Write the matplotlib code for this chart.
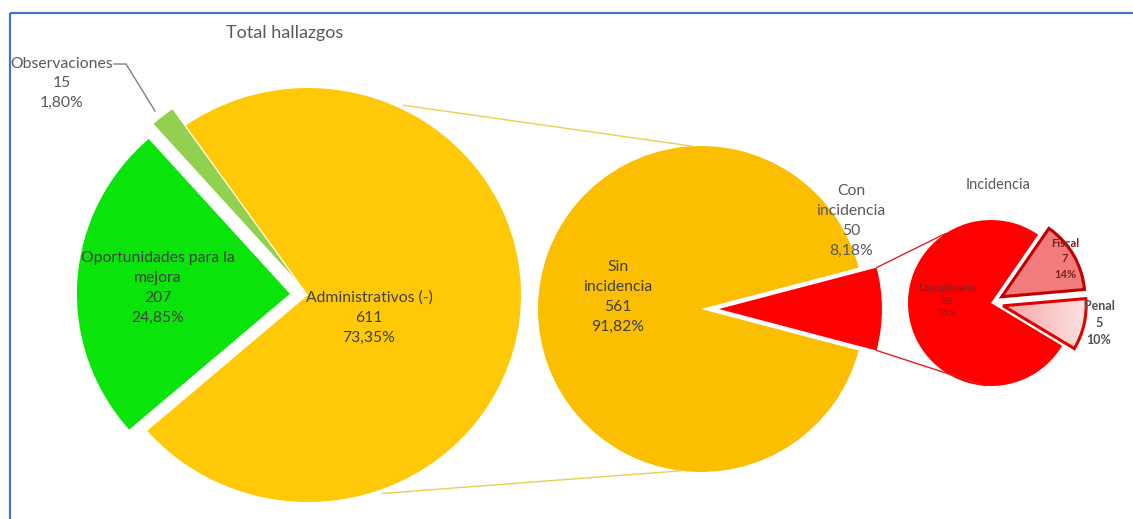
import numpy as np
import matplotlib
matplotlib.use("Agg")
import matplotlib.pyplot as plt
from matplotlib.patches import Rectangle, ConnectionPatch
from matplotlib.colors import LinearSegmentedColormap

plt.rcParams['font.family'] = ['Lato', 'DejaVu Sans']

# ---------------- data ----------------
total_labels = ["Administrativos (-)", "Observaciones", "Oportunidades para la mejora"]
total_values = [611, 15, 207]

admin_labels = ["Sin incidencia", "Con incidencia"]
admin_values = [561, 50]

inc_labels = ["Disciplinario", "Penal", "Fiscal"]
inc_values = [38, 5, 7]

W, H = 1133, 519
fig = plt.figure(figsize=(W / 100, H / 100), dpi=100)


def pct2(v, tot):
    return f"{100 * v / tot:.2f}".replace('.', ',') + "%"


def pct0(v, tot):
    return f"{100 * v / tot:.0f}%"


def pie_axes(cx, cy, rx, ry, L=1.45):
    ax = fig.add_axes([(cx - rx * L) / W, (H - cy - ry * L) / H, 2 * rx * L / W, 2 * ry * L / H])
    ax.patch.set_visible(False)
    return ax


def finish(ax, L=1.45):
    ax.set_xlim(-L, L)
    ax.set_ylim(-L, L)
    ax.set_aspect('auto')
    ax.axis('off')


# ---------------- big pie ----------------
ax1 = pie_axes(308, 295, 213, 207)
w1, _ = ax1.pie(total_values, colors=['#FFC907', '#92D050', '#0AE40A'],
                explode=[0, 0.1, 0.085], startangle=221, counterclock=True,
                wedgeprops=dict(linewidth=0))
finish(ax1)

# ---------------- middle pie ----------------
ax2 = pie_axes(701, 309, 163, 163)
w2, _ = ax2.pie(admin_values, colors=['#FCBE00', '#FF0000'],
                explode=[0, 0.11], startangle=14.7, counterclock=True,
                wedgeprops=dict(linewidth=0))
finish(ax2)

# ---------------- small pie ----------------
ax3 = pie_axes(991, 303, 83, 83)
w3, _ = ax3.pie(inc_values, colors=['#FF0000', '#F8C4C4', '#F27C7C'],
                explode=[0, 0.15, 0.15], startangle=55.4, counterclock=True,
                wedgeprops=dict(linewidth=0))
w3[1].set_edgecolor('#E00000'); w3[1].set_linewidth(2.2)
w3[2].set_edgecolor('#C00000'); w3[2].set_linewidth(2.2)
# gradient fill for Penal
cmap = LinearSegmentedColormap.from_list('pink', ['#F2A4A4', '#FDE4E4'])
grad = np.linspace(0, 1, 256).reshape(1, -1)
im = ax3.imshow(grad, cmap=cmap, extent=[0.1, 1.2, -0.8, 0.2], aspect='auto', zorder=1.5)
im.set_clip_path(w3[1])
w3[1].set_zorder(2)
w3[1].set_facecolor('none')
finish(ax3)

# ---------------- connector lines ----------------
def pt(angle, r=1.0, dx=0.0):
    a = np.deg2rad(angle)
    return (dx + r * np.cos(a), r * np.sin(a))

for a_from, a_to in [(64, 93), (-70, -97)]:
    cp = ConnectionPatch(xyA=pt(a_from, 1.02), coordsA=ax1.transData,
                         xyB=pt(a_to), coordsB=ax2.transData,
                         color='#E8D050', lw=1.0, zorder=0.5)
    fig.add_artist(cp)

half = 180 * admin_values[1] / sum(admin_values)
for a_from, a_to in [(half, 123), (-half, -94)]:
    cp = ConnectionPatch(xyA=pt(a_from, 1.0, 0.11), coordsA=ax2.transData,
                         xyB=pt(a_to), coordsB=ax3.transData,
                         color='#E02020', lw=1.0, zorder=0.5)
    fig.add_artist(cp)

# ---------------- overlay for text / frame ----------------
ov = fig.add_axes([0, 0, 1, 1], zorder=10)
ov.patch.set_visible(False)
ov.set_xlim(0, W)
ov.set_ylim(H, 0)
ov.axis('off')

ov.add_patch(Rectangle((10, 13), 1300, 700, fill=False, edgecolor='#4472C4', lw=1.6, clip_on=True))

gray = '#595959'
dark = '#404040'
tt = sum(total_values)
ta = sum(admin_values)
ti = sum(inc_values)

ov.text(285, 33, "Total hallazgos", ha='center', va='center', fontsize=13, color=gray)
ov.text(998, 185, "Incidencia", ha='center', va='center', fontsize=10.5, color=gray)

ov.text(62, 83, f"{total_labels[1]}\n{total_values[1]}\n{pct2(total_values[1], tt)}",
        ha='center', va='center', fontsize=11.3, color=gray, linespacing=1.5)
ov.plot([114, 126, 155], [64, 64, 111], color='#808080', lw=1.0)

ov.text(158, 288, f"Oportunidades para la\nmejora\n{total_values[2]}\n{pct2(total_values[2], tt)}",
        ha='center', va='center', fontsize=11.3, color=dark, linespacing=1.55)
ov.text(369, 318, f"{total_labels[0]}\n{total_values[0]}\n{pct2(total_values[0], tt)}",
        ha='center', va='center', fontsize=11.3, color=dark, linespacing=1.55)

ov.text(618, 297, f"Sin\nincidencia\n{admin_values[0]}\n{pct2(admin_values[0], ta)}",
        ha='center', va='center', fontsize=11.3, color=dark, linespacing=1.55)
ov.text(851, 221, f"Con\nincidencia\n{admin_values[1]}\n{pct2(admin_values[1], ta)}",
        ha='center', va='center', fontsize=11.3, color=gray, linespacing=1.55)

ov.text(947, 301, f"{inc_labels[0]}\n{inc_values[0]}\n{pct0(inc_values[0], ti)}",
        ha='center', va='center', fontsize=7.5, color='#8B1A1A', linespacing=1.5)
ov.text(1065, 259, f"{inc_labels[2]}\n{inc_values[2]}\n{pct0(inc_values[2], ti)}",
        ha='center', va='center', fontsize=8, color='#7A2020', linespacing=1.5, fontweight='bold')
ov.text(1099, 323, f"{inc_labels[1]}\n{inc_values[1]}\n{pct0(inc_values[1], ti)}",
        ha='center', va='center', fontsize=9, color='#505050', linespacing=1.5, fontweight='bold')

fig.savefig("out.png", dpi=100)
